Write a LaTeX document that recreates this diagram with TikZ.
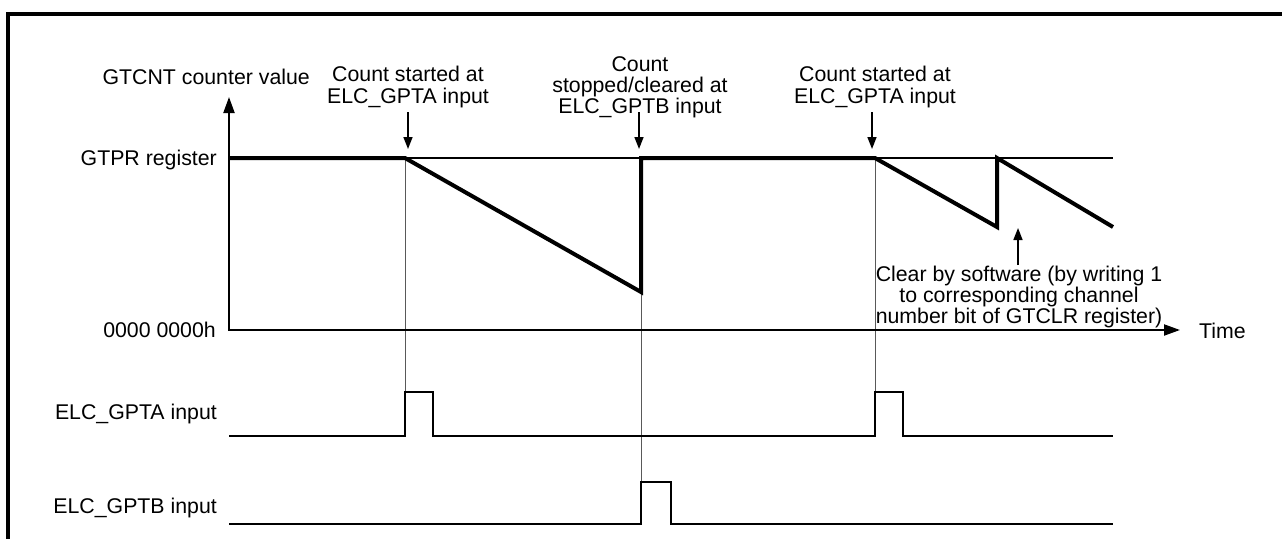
\documentclass[tikz,border=0pt]{standalone}
\usepackage{fontspec}
\setmainfont{Liberation Sans}
\usetikzlibrary{arrows.meta}
\begin{document}
\begin{tikzpicture}[x=1pt,y=-1pt,
  lbl/.style={inner sep=0pt, font=\fontsize{21.3}{21.2}\selectfont, align=center},
  rlbl/.style={lbl, anchor=east},
  wave/.style={line width=4pt, line join=miter},
  sig/.style={line width=2.5pt, line join=miter},
  guide/.style={line width=1pt, black!65},
  axis/.style={line width=2pt, {Triangle[length=16pt,width=11pt]}-{Triangle[length=16pt,width=11pt]}},
  frame/.style={line width=3.5pt, line join=miter},
  ptr/.style={line width=1.5pt, -{Triangle[length=12pt,width=9pt]}}
]
\useasboundingbox (0,0) rectangle (1282,538);
% frame (top and left edges)
\draw[frame] (8,540) -- (8,14) -- (1284,14);

% coordinates of the counter waveform
\coordinate (O) at (229,330);
\coordinate (Ytop) at (229,97);
\coordinate (Xend) at (1180,330);
\coordinate (P0) at (229,158);
\coordinate (P1) at (405,158);
\coordinate (B1) at (641,292);
\coordinate (T1) at (641,158);
\coordinate (P2) at (875,158);
\coordinate (B2) at (997,227);
\coordinate (T2) at (997,158);
\coordinate (E) at (1113,227);
\coordinate (PR) at (1113,158);

% signal coordinates
\coordinate (A0) at (229,436);
\coordinate (A1) at (405,436);
\coordinate (A1h) at (405,392);
\coordinate (A2h) at (433,392);
\coordinate (A2) at (433,436);
\coordinate (A3) at (875,436);
\coordinate (A3h) at (875,392);
\coordinate (A4h) at (903,392);
\coordinate (A4) at (903,436);
\coordinate (A5) at (1113,436);
\coordinate (G0) at (229,524);
\coordinate (G1) at (641,524);
\coordinate (G1h) at (641,482);
\coordinate (G2h) at (671,482);
\coordinate (G2) at (671,524);
\coordinate (G3) at (1113,524);

% guide lines
\draw[guide] (P1) -- (A1h);
\draw[guide] (B1) -- (G1h);
\draw[guide] (P2) -- (A3h);

% axes
\draw[axis] (Ytop) -- (O) -- (Xend);
% GTPR level
\draw[line width=1.5pt] (P0) -- (PR);
% counter waveform
\draw[wave] (P0) -- (P1) -- (B1) -- (T1) -- (P2) -- (B2) -- (T2) -- (E);

% input signals
\draw[sig] (A0) -- (A1) -- (A1h) -- (A2h) -- (A2) -- (A3) -- (A3h) -- (A4h) -- (A4) -- (A5);
\draw[sig] (G0) -- (G1) -- (G1h) -- (G2h) -- (G2) -- (G3);

% left labels
\node[rlbl] (gtcnt) at (310,77) {GTCNT counter value};
\node[rlbl] (gtpr) at (217,160) {GTPR register};
\node[rlbl] (zero) at (216,330) {0000 0000h};
\node[rlbl] (ga) at (217,414) {ELC\_GPTA input};
\node[rlbl] (gb) at (217,508) {ELC\_GPTB input};
\node[lbl, anchor=west] (time) at (1199,331) {Time};

% annotations
\node[lbl] (c1) at (408,87) {Count started at\\ELC\_GPTA input};
\node[lbl] (c2) at (640,87) {Count\\stopped/cleared at\\ELC\_GPTB input};
\node[lbl] (c3) at (875,87) {Count started at\\ELC\_GPTA input};
\node[lbl] (clr) at (1019,297) {Clear by software (by writing 1\\to corresponding channel\\number bit of GTCLR register)};

\coordinate (c1s) at (408,112);
\coordinate (c1e) at (408,149);
\coordinate (c2s) at (639,112);
\coordinate (c2e) at (639,149);
\coordinate (c3s) at (872,112);
\coordinate (c3e) at (872,149);
\coordinate (clrs) at (1018,265);
\coordinate (clre) at (1018,228);
\draw[ptr] (c1s) -- (c1e);
\draw[ptr] (c2s) -- (c2e);
\draw[ptr] (c3s) -- (c3e);
\draw[ptr] (clrs) -- (clre);
\end{tikzpicture}
\end{document}
